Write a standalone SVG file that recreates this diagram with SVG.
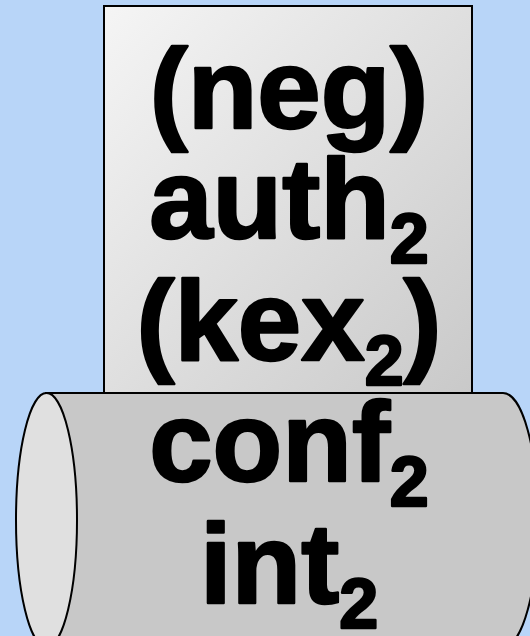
<svg xmlns="http://www.w3.org/2000/svg" width="530" height="636" viewBox="0 0 530 636">
<defs>
<linearGradient id="boxGrad" x1="0" y1="0" x2="1" y2="1">
<stop offset="0" stop-color="#f5f5f5"/>
<stop offset="1" stop-color="#c9c9c9"/>
</linearGradient>
<style>
.lbl{font-family:"Liberation Sans",Arial,sans-serif;font-weight:bold;font-size:114px;fill:#000;stroke:#000;stroke-width:2.5;stroke-linejoin:round;text-anchor:middle}
.sub{font-size:70px}
.edge{stroke:#000;stroke-width:2}
</style>
</defs>
<rect x="0" y="0" width="530" height="636" fill="#b8d5f8"/>
<g id="box">
<rect x="104" y="6" width="368" height="387" fill="url(#boxGrad)" class="edge"/>
<text class="lbl" x="289" y="128">(neg)</text>
<text class="lbl" x="289" y="238">auth<tspan class="sub" dy="25">2</tspan></text>
<text class="lbl" x="289" y="360">(kex<tspan class="sub" dy="25">2</tspan><tspan dy="-25">)</tspan></text>
</g>
<g id="cylinder">
<path d="M46 393 L503 393 A35 127 0 0 1 503 647 L46 647 Z" fill="#c8c8c8" class="edge"/>
<ellipse cx="46.5" cy="520" rx="30.5" ry="127" fill="#e0e0e0" class="edge"/>
<text class="lbl" x="289" y="481">conf<tspan class="sub" dy="25">2</tspan></text>
<text class="lbl" x="289" y="603">int<tspan class="sub" dy="25">2</tspan></text>
</g>
<g id="connectors"/>
</svg>
